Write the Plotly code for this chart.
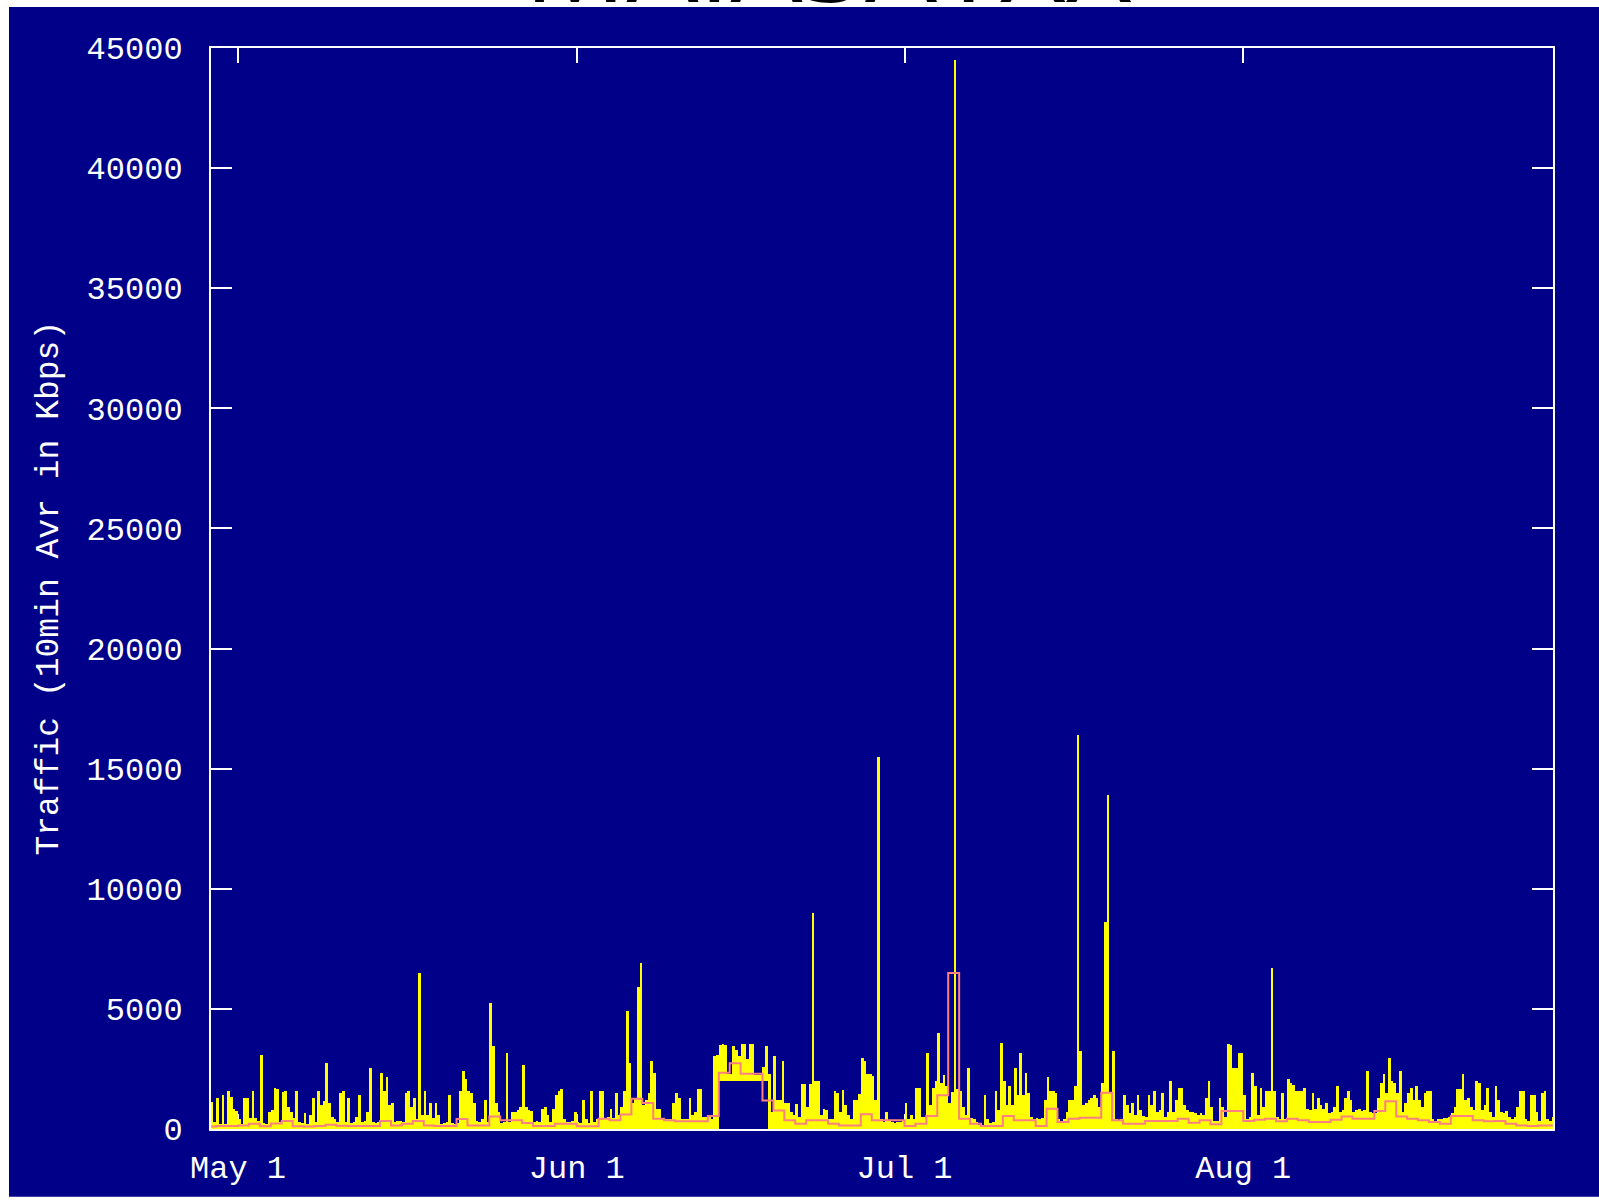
import datetime as dt
import plotly.graph_objects as go

# ---------------- data ----------------
# yellow: 10-min traffic, summarised as peak value per 6-hour slot,
# slots start 2002-04-28 12:00 (one row per day, 4 slots per day)
traffic_6h = [
    1120, 300,                                   # Apr 28 (pm)
    1300, 200, 1400, 200,                        # Apr 29
    1600, 1350, 850, 750,                        # Apr 30
    400, 200, 1300, 1300,                        # May 1
    450, 1600, 450, 350,
    3080, 250, 200, 700,
    800, 1700, 1650, 300,
    1550, 1600, 900, 700,                        # May 5
    450, 1600, 300, 250,
    680, 200, 600, 1300,
    300, 1600, 1000, 1150,
    2750, 1100, 500, 400,
    300, 1500, 1600, 300,                        # May 10
    1300, 250, 300, 500,
    1400, 300, 350, 700,
    2550, 300, 250, 300,
    2350, 1600, 2150, 1000,
    1100, 300, 350, 350,                         # May 15
    300, 1500, 1600, 900,
    1300, 400, 6500, 600,
    1600, 600, 1100, 450,
    1100, 600, 200, 250,
    300, 1400, 250, 200,                         # May 20
    250, 1600, 2400, 2100,
    1600, 1500, 1100, 350,
    300, 400, 1200, 300,
    5250, 3450, 1100, 700,
    250, 300, 3150, 300,                         # May 25
    700, 700, 800, 900,
    2650, 900, 800, 750,
    300, 350, 300, 850,
    900, 600, 300, 850,
    1400, 1600, 1650, 400,                       # May 30
    300, 300, 350, 700,
    300, 250, 1200, 400,                         # Jun 1
    250, 1600, 300, 400,
    1600, 1600, 400, 500,
    850, 450, 1500, 600,
    900, 1600, 4900, 2750,                       # Jun 5
    1100, 1300, 5900, 6900,
    1000, 1200, 1500, 2850,
    2350, 850, 850, 400,
    400, 400, 400, 1100,
    1500, 1300, 400, 400,                        # Jun 10
    400, 1300, 600, 700,
    1650, 1650, 500, 500,
    500, 400, 3050, 3100,
    3500, 3550, 3500, 2300,
    2300, 3450, 3300, 3050,                      # Jun 15
    3550, 3550, 2900, 3550,
    3550, 2250, 2250, 2250,
    2600, 3450, 2300, 700,
    3050, 1200, 1200, 2850,
    1100, 1100, 700, 600,                        # Jun 20
    1050, 500, 1880, 1880,
    900, 1880, 9000, 2000,
    2000, 600, 850, 800,
    400, 400, 1600, 1500,
    700, 1640, 1000, 600,                        # Jun 25
    400, 1200, 1200, 1450,
    2950, 2850, 2300, 2300,
    2200, 1200, 15500, 400,
    300, 700, 350, 300,
    250, 300, 300, 350,                          # Jun 30
    1100, 400, 600, 400,                         # Jul 1
    1700, 1700, 500, 500,
    3150, 1000, 1700, 2000,
    4000, 1900, 2250, 1800,
    1100, 1550, 44500, 1650,                     # Jul 5
    1600, 900, 600, 2550,
    450, 400, 300, 150,
    150, 1400, 400, 250,
    300, 1600, 800, 3600,
    2000, 1000, 1800, 1000,                      # Jul 10
    2550, 1400, 3150, 1400,
    2350, 1500, 500, 400,
    450, 400, 450, 1200,
    2150, 1600, 1600, 1500,
    400, 350, 400, 700,                          # Jul 15
    1200, 1200, 1800, 16400,
    3250, 1000, 1100, 1200,
    1300, 1400, 1300, 900,
    1900, 8600, 13900, 1500,
    3250, 400, 350, 400,                         # Jul 20
    1400, 1000, 650, 1100,
    600, 1400, 800, 550,
    500, 1400, 1000, 1600,
    700, 800, 1500, 500,
    700, 2000, 700, 1200,                        # Jul 25
    1700, 1700, 1000, 800,
    700, 700, 650, 600,
    650, 600, 1300, 2000,
    900, 350, 350, 1300,
    900, 500, 3550, 3500,                        # Jul 30
    2550, 2550, 3150, 3150,
    1400, 400, 500, 2350,                        # Aug 1
    1800, 600, 1700, 900,
    1600, 1600, 6700, 1600,
    500, 400, 1500, 400,
    2100, 1900, 1850, 1600,                      # Aug 5
    1600, 1600, 1700, 850,
    800, 1500, 850, 1300,
    1000, 850, 1100, 650,
    700, 900, 1800, 700,
    800, 1300, 1600, 1200,                       # Aug 10
    700, 800, 850, 750,
    800, 2400, 700, 650,
    650, 1300, 1900, 2300,
    1500, 2950, 2000, 1900,
    1500, 2400, 700, 1100,                       # Aug 15
    1500, 1700, 1200, 1800,
    1200, 900, 1500, 1600,
    1600, 400, 350, 400,
    400, 450, 450, 500,
    650, 900, 1650, 1650,                        # Aug 20
    2300, 1200, 1300, 900,
    800, 2000, 1900, 800,
    1000, 1700, 700, 500,
    1800, 1200, 700, 650,
    750, 500, 400, 500,                          # Aug 25
    900, 1600, 1600, 400,
    350, 1400, 1400, 700,
    350, 1500, 1600, 400,
    350, 500,                                    # Aug 29 (am)
]
# lower edge of the yellow line per slot (blue shows below it on the mid-June plateau)
traffic_6h_low = [0] * 186 + [2000] * 18 + [0] * 288

# pink: daily average, 2002-04-28 .. 2002-08-29
daily_avg = [
    100, 120, 130,                                                     # Apr 28-30
    150, 220, 110, 230, 330, 110, 100, 120, 180, 140,                  # May 1-10
    130, 120, 120, 330, 150, 220, 330, 150, 120, 120,                  # May 11-20
    420, 150, 150, 520, 360, 360, 250, 120, 120, 220, 220,             # May 21-31
    110, 110, 430, 360, 600, 1260, 1080, 430, 360, 320,                # Jun 1-10
    320, 320, 540, 2340, 2740, 2300, 2300, 1190, 775, 360,             # Jun 11-20
    220, 360, 360, 220, 150, 150, 610, 360, 360, 360,                  # Jun 21-30
    120, 220, 540, 1400, 6490, 430, 220, 120, 120, 540,                # Jul 1-10
    360, 360, 120, 840, 290, 430, 470, 470, 1510, 360,                 # Jul 11-20
    220, 220, 330, 330, 330, 430, 260, 360, 200, 750, 750,             # Jul 21-31
    330, 390, 430, 320, 430, 360, 290, 290, 390, 525,                  # Aug 1-10
    430, 430, 750, 1160, 525, 430, 360, 290, 220, 540,                 # Aug 11-20
    540, 360, 320, 330, 220, 150, 120, 150, 150,                       # Aug 21-29
]

y_ticks = [0, 5000, 10000, 15000, 20000, 25000, 30000, 35000, 40000, 45000]
month_ticks = ["2002-05-01", "2002-06-01", "2002-07-01", "2002-08-01"]
month_labels = ["May 1", "Jun 1", "Jul 1", "Aug 1"]
x_range = ["2002-04-28 12:40", "2002-08-29 08:25"]
y_title = "Traffic (10min Avr in Kbps)"
chart_title = "MAIASATXX"

# ---------------- build ----------------
slot0 = dt.datetime(2002, 4, 28, 12, 0)
slot = dt.timedelta(hours=6)
slot_x = [slot0 + slot * i + slot / 2 for i in range(len(traffic_6h))]
bar_h = [hi - lo for hi, lo in zip(traffic_6h, traffic_6h_low)]

day0 = dt.datetime(2002, 4, 28)
day_x = [day0 + dt.timedelta(days=i) for i in range(len(daily_avg) + 1)]
day_y = daily_avg + [daily_avg[-1]]

BG = "#000088"
WHITE = "#ffffff"
MONO = "Liberation Mono, DejaVu Sans Mono, monospace"

W, H = 1599, 1200
L, R, T, B = 211, 46, 48, 68
PW, PH = W - L - R, H - T - B


def px_x(p):   # page pixel -> paper x
    return (p - L) / PW


def px_y(p):   # page pixel -> paper y
    return (H - B - p) / PH


fig = go.Figure()
fig.add_trace(go.Bar(
    x=slot_x, y=bar_h, base=traffic_6h_low,
    width=6 * 3600 * 1000,
    marker=dict(color="#ffff00", line=dict(width=0)),
    hoverinfo="skip", showlegend=False,
))
fig.add_trace(go.Scatter(
    x=day_x, y=day_y, mode="lines",
    line=dict(color="#ff8080", width=2, shape="hv"),
    hoverinfo="skip", showlegend=False,
))

fig.update_layout(
    width=W, height=H, autosize=False,
    margin=dict(l=L, r=R, t=T, b=B, pad=0),
    paper_bgcolor="#ffffff", plot_bgcolor=BG,
    bargap=0,
    showlegend=False,
    font=dict(family=MONO, size=32, color=WHITE),
)
# dark-blue panel that covers the page except a thin white edge top/left/bottom
fig.add_shape(
    type="rect", xref="paper", yref="paper", layer="below",
    x0=px_x(9), x1=px_x(W + 5), y0=px_y(H), y1=px_y(7),
    fillcolor=BG, line=dict(width=0),
)
fig.update_xaxes(
    type="date", range=x_range,
    tickvals=month_ticks, ticktext=month_labels,
    showgrid=False, zeroline=False,
    showline=True, linecolor=WHITE, linewidth=2, mirror="ticks",
    ticks="inside", ticklen=15, tickwidth=2, tickcolor=WHITE,
    ticklabelstandoff=9,
    tickfont=dict(family=MONO, size=32, color=WHITE),
    layer="below traces",
)
fig.update_yaxes(
    range=[0, 45000], tickvals=y_ticks, tickformat="d",
    showgrid=False, zeroline=False,
    showline=True, linecolor=WHITE, linewidth=2, mirror="ticks",
    ticks="inside", ticklen=21, tickwidth=2, tickcolor=WHITE,
    ticklabelstandoff=20,
    tickfont=dict(family=MONO, size=32, color=WHITE),
    layer="below traces",
)
fig.add_annotation(
    text=y_title, textangle=-90, showarrow=False,
    xref="paper", yref="paper", x=px_x(49), y=0.5,
    xanchor="center", yanchor="middle",
    font=dict(family=MONO, size=33, color=WHITE),
)
# big title: only the lowest few pixels of its letters show above the blue panel
fig.add_annotation(
    text=chart_title, showarrow=False,
    xref="paper", yref="paper", x=px_x(828), y=px_y(7),
    xanchor="center", yanchor="bottom", yshift=-30,
    font=dict(family="Open Sans, sans-serif", size=114, color="#000000"),
)

fig.write_html(
    "out.html",
    config={"displayModeBar": False},
    post_script="document.body.style.margin='0';",
)
